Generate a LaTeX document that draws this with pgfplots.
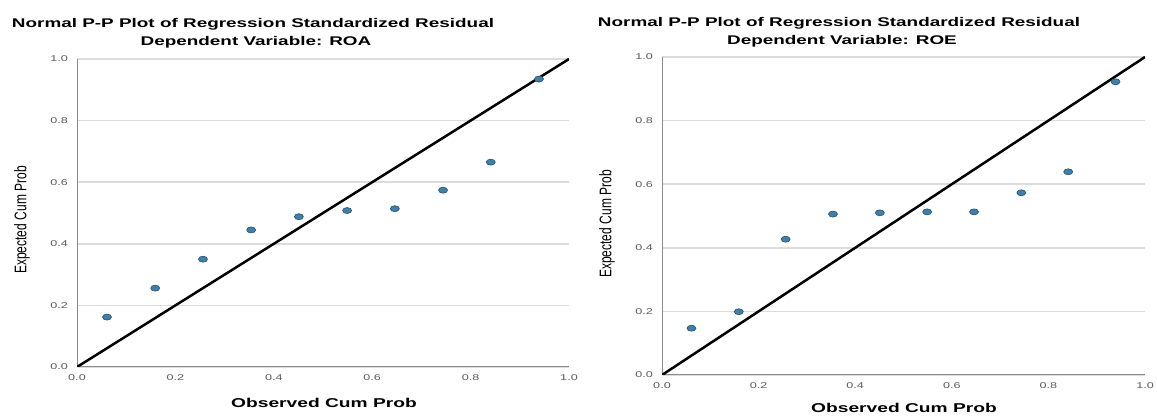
\documentclass[border=0pt]{standalone}
\usepackage{pgfplots}
\pgfplotsset{compat=1.18}
\usepackage{fontspec}
\setmainfont{Liberation Sans}
\usepackage{graphicx}
\definecolor{gridc}{HTML}{DCDCDC}
\definecolor{axisgray}{HTML}{8C8C8C}
\definecolor{tickgray}{HTML}{5A5A5A}
\definecolor{mk}{HTML}{3F7FA8}
\definecolor{mkd}{HTML}{24506F}
\newcommand\sx[1]{\scalebox{1.5}[1]{#1}}
\newcommand\tk[1]{\scalebox{1.5}[1]{\fontsize{8.4}{9}\selectfont #1}}
\pgfplotsset{pp/.style={
  scale only axis, xmin=0, xmax=1, ymin=0, ymax=1,
  axis x line=bottom, axis y line=left,
  axis line style={-, axisgray, line width=1pt},
  major tick length=0pt,
  xtick={0,0.2,0.4,0.6,0.8,1}, ytick={0,0.2,0.4,0.6,0.8,1},
  xticklabels={\tk{0.0},\tk{0.2},\tk{0.4},\tk{0.6},\tk{0.8},\tk{1.0}},
  yticklabels={\tk{0.0},\tk{0.2},\tk{0.4},\tk{0.6},\tk{0.8},\tk{1.0}},
  ymajorgrids, grid style={gridc, line width=1.5pt},
  xticklabel style={anchor=north, inner sep=0pt, yshift=-7pt, text=tickgray},
  yticklabel style={anchor=east, inner sep=0pt, xshift=-9pt, text=tickgray},
}}
\begin{document}
\begin{tikzpicture}
\path[use as bounding box] (0,0) rectangle (1157pt,419pt);
% Left: ROA
\begin{axis}[pp, at={(77pt,52pt)}, anchor=south west, width=492pt, height=308pt]
\addplot[black, line width=2.5pt, no marks] coordinates {(0,0) (1,1)};
\addplot[only marks, mark=*, mark size=3pt, mark options={xscale=1.5, fill=mk, draw=mkd, line width=0.6pt}] coordinates {
(0.061,0.162) (0.159,0.256) (0.256,0.350) (0.354,0.445) (0.451,0.488)
(0.549,0.508) (0.646,0.514) (0.744,0.574) (0.841,0.665) (0.939,0.935)};
\end{axis}
% Right: ROE
\begin{axis}[pp, at={(662pt,44pt)}, anchor=south west, width=483pt, height=318pt]
\addplot[black, line width=2.5pt, no marks] coordinates {(0,0) (1,1)};
\addplot[only marks, mark=*, mark size=3pt, mark options={xscale=1.5, fill=mk, draw=mkd, line width=0.6pt}] coordinates {
(0.061,0.147) (0.159,0.199) (0.256,0.427) (0.354,0.506) (0.451,0.510)
(0.549,0.513) (0.646,0.513) (0.744,0.573) (0.841,0.639) (0.939,0.922)};
\end{axis}
% Titles
\node[anchor=base, inner sep=0pt, font=\fontsize{12.6}{15}\selectfont\bfseries] at (253pt,391pt) {\sx{Normal P-P Plot of Regression Standardized Residual}};
\node[anchor=base, inner sep=0pt, font=\fontsize{12.6}{15}\selectfont\bfseries] at (256pt,373pt) {\sx{Dependent Variable: ROA}};
\node[anchor=base, inner sep=0pt, font=\fontsize{12.6}{15}\selectfont\bfseries] at (839pt,392.5pt) {\sx{Normal P-P Plot of Regression Standardized Residual}};
\node[anchor=base, inner sep=0pt, font=\fontsize{12.6}{15}\selectfont\bfseries] at (842pt,374pt) {\sx{Dependent Variable: ROE}};
% Axis labels
\node[anchor=base, inner sep=0pt, font=\fontsize{12.8}{15}\selectfont\bfseries] at (324pt,11pt) {\sx{Observed Cum Prob}};
\node[anchor=base, inner sep=0pt, font=\fontsize{12.8}{15}\selectfont\bfseries] at (904pt,6pt) {\sx{Observed Cum Prob}};
\node[rotate=90, inner sep=0pt, font=\fontsize{12}{14}\selectfont] at (22pt,199pt) {\scalebox{1}[1.4]{Expected Cum Prob}};
\node[rotate=90, inner sep=0pt, font=\fontsize{12}{14}\selectfont] at (607pt,195pt) {\scalebox{1}[1.4]{Expected Cum Prob}};
\end{tikzpicture}
\end{document}
